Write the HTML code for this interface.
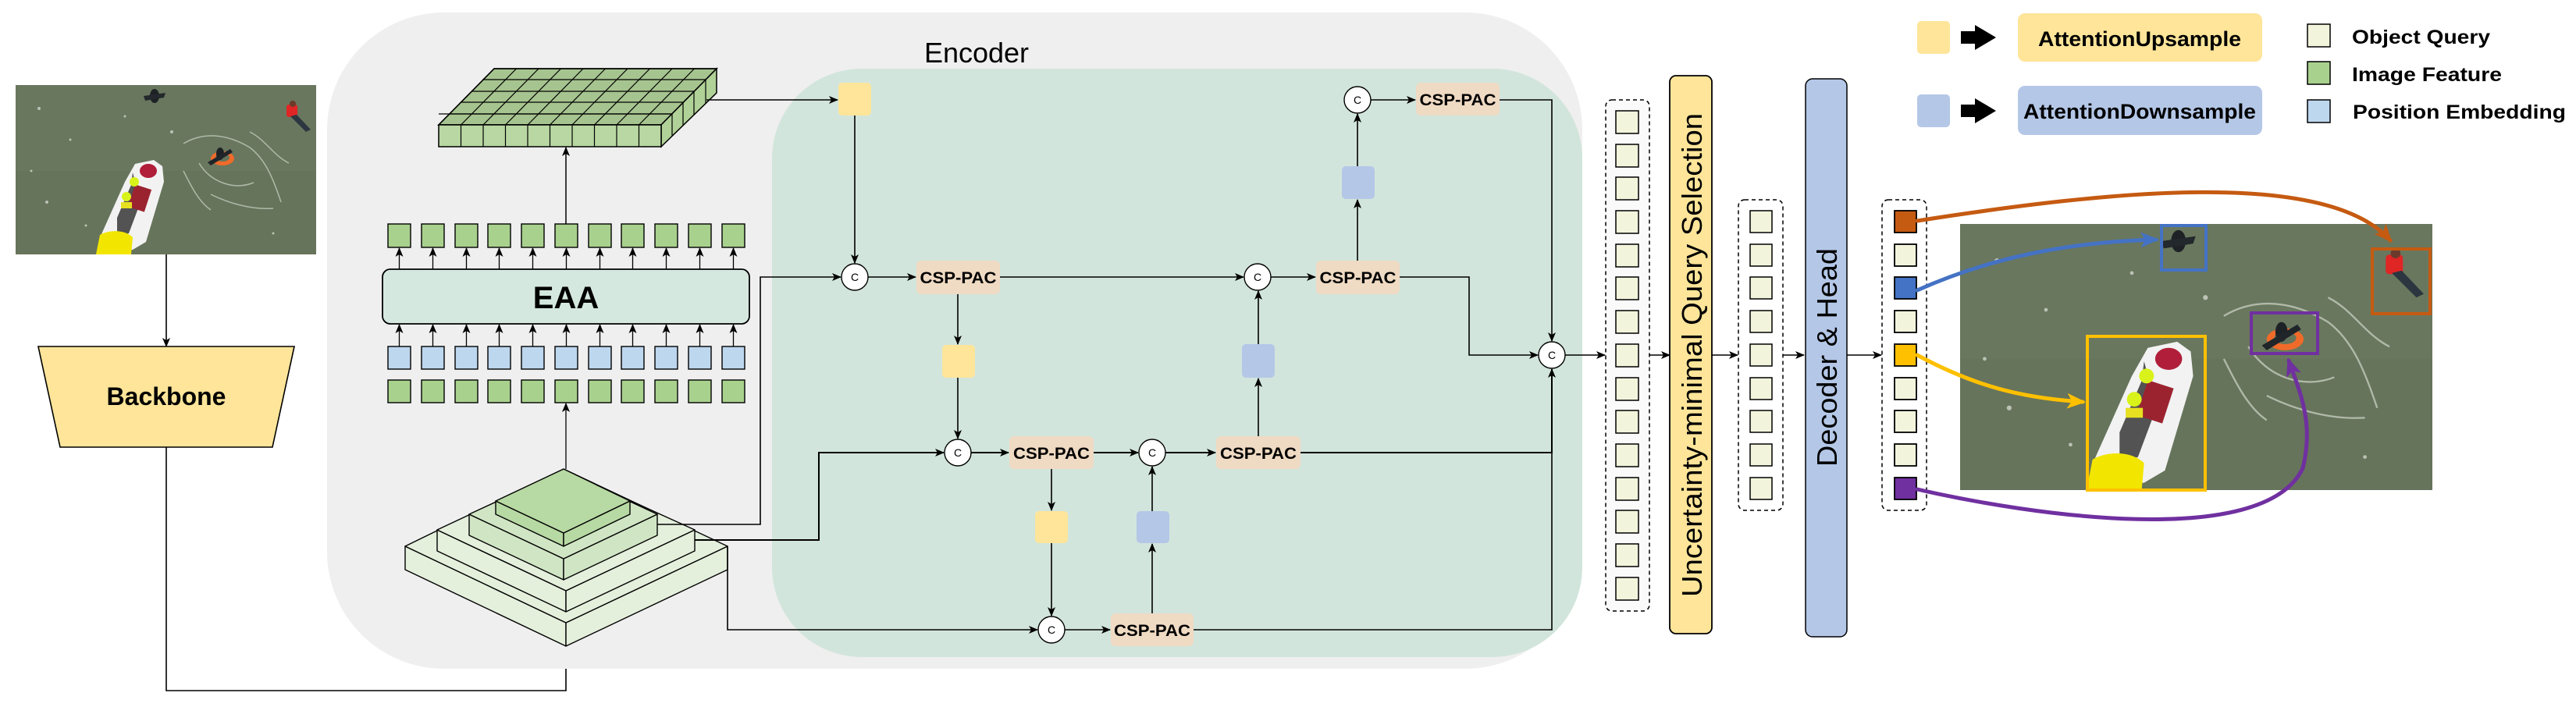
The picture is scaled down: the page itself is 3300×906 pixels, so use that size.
<!DOCTYPE html>
<html><head><meta charset="utf-8"><style>
html,body{margin:0;padding:0;background:#fff;}
svg{display:block;}
text{font-family:"Liberation Sans",Arial,sans-serif;}
</style></head><body>
<svg width="3300" height="906" viewBox="0 0 3300 906" xmlns="http://www.w3.org/2000/svg">
<defs>
<marker id="a" markerWidth="12" markerHeight="10" refX="11" refY="5" orient="auto" markerUnits="userSpaceOnUse"><path d="M0,0 L12,5 L0,10 L3,5z" fill="#000"/></marker>
<marker id="mo" markerWidth="24" markerHeight="20" refX="20" refY="10" orient="auto" markerUnits="userSpaceOnUse"><path d="M0,0 L24,10 L0,20 L6,10z" fill="#c55a11"/></marker>
<marker id="mb" markerWidth="24" markerHeight="20" refX="20" refY="10" orient="auto" markerUnits="userSpaceOnUse"><path d="M0,0 L24,10 L0,20 L6,10z" fill="#4472c4"/></marker>
<marker id="my" markerWidth="24" markerHeight="20" refX="20" refY="10" orient="auto" markerUnits="userSpaceOnUse"><path d="M0,0 L24,10 L0,20 L6,10z" fill="#ffc000"/></marker>
<marker id="mp" markerWidth="24" markerHeight="20" refX="20" refY="10" orient="auto" markerUnits="userSpaceOnUse"><path d="M0,0 L24,10 L0,20 L6,10z" fill="#7030a0"/></marker>
<clipPath id="pc"><rect x="0" y="0" width="385" height="217"/></clipPath>
<g id="photo">
 <g clip-path="url(#pc)">
 <rect x="0" y="0" width="385" height="217" fill="#66745b"/>
 <rect x="0" y="0" width="385" height="110" fill="#6b7a60" opacity="0.6"/>
 <g fill="none" stroke="#c9d0c2" stroke-width="1.5" opacity="0.75">
  <path d="M215,75 C240,60 270,62 300,80 C320,95 330,120 340,150"/>
  <path d="M235,100 C250,125 280,135 305,125"/>
  <path d="M300,60 C320,70 330,90 350,100"/>
  <path d="M250,140 C270,150 300,160 330,158"/>
  <path d="M215,110 C225,130 235,150 250,160"/>
 </g>
 <g fill="#dfe4da" opacity="0.7">
  <circle cx="30" cy="30" r="2"/><circle cx="70" cy="70" r="1.5"/><circle cx="40" cy="150" r="2"/><circle cx="90" cy="180" r="1.5"/><circle cx="140" cy="40" r="1.5"/><circle cx="200" cy="60" r="2"/><circle cx="330" cy="190" r="1.5"/><circle cx="20" cy="110" r="1.5"/>
 </g>
 <polygon points="153,101 177,96 188,104 190,124 167,201 150,211 107,214 110,191 140,124" fill="#f2f2f2"/>
 <polygon points="150,112 160,150 145,190 130,195 130,170 148,128" fill="#2a2a2a" opacity="0.8"/>
 <ellipse cx="170" cy="110" rx="11" ry="9" fill="#b01e3a"/>
 <rect x="148" y="130" width="22" height="30" fill="#9b2330" transform="rotate(18 159 145)"/>
 <circle cx="152" cy="124" r="6" fill="#d9f21a"/>
 <circle cx="142" cy="143" r="6" fill="#d9f21a"/>
 <rect x="135" y="150" width="14" height="8" fill="#e6e020"/>
 <path d="M103,217 L108,192 C120,185 140,185 150,195 L148,217z" fill="#f2e600"/>
 <ellipse cx="178" cy="14" rx="6" ry="9" fill="#1e2226"/>
 <path d="M164,14 L192,10 L190,16 L166,20z" fill="#23282c"/>
 <ellipse cx="265" cy="94" rx="15" ry="9" fill="#f06a2a"/>
 <ellipse cx="265" cy="93" rx="9" ry="5" fill="#66745b"/>
 <ellipse cx="262" cy="88" rx="5" ry="8" fill="#1d2226"/>
 <path d="M246,99 L275,82 L278,86 L250,103z" fill="#20252a"/>
 <rect x="347" y="25" width="14" height="16" fill="#e02525" rx="3"/>
 <path d="M352,40 L372,60 L378,57 L360,38z" fill="#2c3640"/>
 <circle cx="355" cy="24" r="4" fill="#6b3a2a"/>
 </g>
</g>
</defs>

<!-- input photo & backbone -->
<use href="#photo" transform="translate(20,109)"/>
<line x1="213" y1="326" x2="213" y2="444" stroke="#000" stroke-width="1.6" marker-end="url(#a)"/>
<polygon points="49,444 377,444 349,573 77,573" fill="#fee599" stroke="#000" stroke-width="1.6"/>
<text x="213" y="519" font-size="32" font-weight="bold" text-anchor="middle">Backbone</text>
<polyline points="213,573 213,885 725,885 725,830" fill="none" stroke="#000" stroke-width="1.6" marker-end="url(#a)"/>

<!-- encoder backgrounds -->
<rect x="419" y="16" width="1608" height="841" rx="150" fill="#efefef"/>
<rect x="989" y="88" width="1038" height="754" rx="115" fill="#d2e5dc"/>
<text x="1251" y="80" font-size="36" text-anchor="middle">Encoder</text>

<!-- 3D grid -->
<polygon points="562,160 847,160 918,88 633,88" fill="#a6c48f" stroke="#000" stroke-width="1.5"/>
<g stroke="#000" stroke-width="1.2">
 <line x1="548" y1="146" x2="861" y2="146" />
</g>
<g stroke="#000" stroke-width="1.2" fill="none">
 <line x1="576" y1="146" x2="861" y2="146"/>
 <line x1="590" y1="131" x2="875" y2="131"/>
 <line x1="604" y1="117" x2="889" y2="117"/>
 <line x1="618" y1="102" x2="904" y2="102"/>
 <line x1="590.5" y1="160" x2="661.5" y2="88"/>
 <line x1="619" y1="160" x2="690" y2="88"/>
 <line x1="647.5" y1="160" x2="718.5" y2="88"/>
 <line x1="676" y1="160" x2="747" y2="88"/>
 <line x1="704.5" y1="160" x2="775.5" y2="88"/>
 <line x1="733" y1="160" x2="804" y2="88"/>
 <line x1="761.5" y1="160" x2="832.5" y2="88"/>
 <line x1="790" y1="160" x2="861" y2="88"/>
 <line x1="818.5" y1="160" x2="889.5" y2="88"/>
</g>
<rect x="548" y="140" width="14" height="14" fill="#efefef"/>
<polygon points="562,160 847,160 918,88 633,88" fill="none" stroke="#000" stroke-width="1.5"/>
<polygon points="847,160 918,88 918,119 847,188" fill="#b0d197" stroke="#000" stroke-width="1.5"/>
<g stroke="#000" stroke-width="1.2"><line x1="861" y1="146" x2="861" y2="174"/><line x1="875" y1="131" x2="875" y2="160"/><line x1="889" y1="117" x2="889" y2="147"/><line x1="904" y1="102" x2="904" y2="133"/></g>
<rect x="562" y="160" width="285" height="28" fill="#b8d7a2" stroke="#000" stroke-width="1.5"/>
<g stroke="#000" stroke-width="1.2"><line x1="590.5" y1="160" x2="590.5" y2="188"/><line x1="619" y1="160" x2="619" y2="188"/><line x1="647.5" y1="160" x2="647.5" y2="188"/><line x1="676" y1="160" x2="676" y2="188"/><line x1="704.5" y1="160" x2="704.5" y2="188"/><line x1="733" y1="160" x2="733" y2="188"/><line x1="761.5" y1="160" x2="761.5" y2="188"/><line x1="790" y1="160" x2="790" y2="188"/><line x1="818.5" y1="160" x2="818.5" y2="188"/></g>
<line x1="905" y1="128" x2="1073" y2="128" stroke="#000" stroke-width="1.4" marker-end="url(#a)"/>
<line x1="725" y1="287" x2="725" y2="189" stroke="#000" stroke-width="1.5" marker-end="url(#a)"/>

<!-- token rows -->
<g stroke="#000" stroke-width="1.4">
<g fill="#a9d18e">
<rect x="497" y="287" width="29" height="30"/><rect x="540" y="287" width="29" height="30"/><rect x="583" y="287" width="29" height="30"/><rect x="625" y="287" width="29" height="30"/><rect x="668" y="287" width="29" height="30"/><rect x="711" y="287" width="29" height="30"/><rect x="754" y="287" width="29" height="30"/><rect x="796" y="287" width="29" height="30"/><rect x="839" y="287" width="29" height="30"/><rect x="882" y="287" width="29" height="30"/><rect x="925" y="287" width="29" height="30"/>
<rect x="497" y="487" width="29" height="29"/><rect x="540" y="487" width="29" height="29"/><rect x="583" y="487" width="29" height="29"/><rect x="625" y="487" width="29" height="29"/><rect x="668" y="487" width="29" height="29"/><rect x="711" y="487" width="29" height="29"/><rect x="754" y="487" width="29" height="29"/><rect x="796" y="487" width="29" height="29"/><rect x="839" y="487" width="29" height="29"/><rect x="882" y="487" width="29" height="29"/><rect x="925" y="487" width="29" height="29"/>
</g>
<g fill="#bdd7ee">
<rect x="497" y="444" width="29" height="29"/><rect x="540" y="444" width="29" height="29"/><rect x="583" y="444" width="29" height="29"/><rect x="625" y="444" width="29" height="29"/><rect x="668" y="444" width="29" height="29"/><rect x="711" y="444" width="29" height="29"/><rect x="754" y="444" width="29" height="29"/><rect x="796" y="444" width="29" height="29"/><rect x="839" y="444" width="29" height="29"/><rect x="882" y="444" width="29" height="29"/><rect x="925" y="444" width="29" height="29"/>
</g>
</g>
<rect x="490" y="345" width="470" height="70" rx="10" fill="#d5e8e0" stroke="#000" stroke-width="1.8"/>
<text x="725" y="395" font-size="40" font-weight="bold" text-anchor="middle">EAA</text>
<g stroke="#000" stroke-width="1.3" marker-end="url(#a)">
<line x1="511.5" y1="345" x2="511.5" y2="318"/><line x1="554.5" y1="345" x2="554.5" y2="318"/><line x1="597.5" y1="345" x2="597.5" y2="318"/><line x1="639.5" y1="345" x2="639.5" y2="318"/><line x1="682.5" y1="345" x2="682.5" y2="318"/><line x1="725.5" y1="345" x2="725.5" y2="318"/><line x1="768.5" y1="345" x2="768.5" y2="318"/><line x1="810.5" y1="345" x2="810.5" y2="318"/><line x1="853.5" y1="345" x2="853.5" y2="318"/><line x1="896.5" y1="345" x2="896.5" y2="318"/><line x1="939.5" y1="345" x2="939.5" y2="318"/>
<line x1="511.5" y1="444" x2="511.5" y2="416"/><line x1="554.5" y1="444" x2="554.5" y2="416"/><line x1="597.5" y1="444" x2="597.5" y2="416"/><line x1="639.5" y1="444" x2="639.5" y2="416"/><line x1="682.5" y1="444" x2="682.5" y2="416"/><line x1="725.5" y1="444" x2="725.5" y2="416"/><line x1="768.5" y1="444" x2="768.5" y2="416"/><line x1="810.5" y1="444" x2="810.5" y2="416"/><line x1="853.5" y1="444" x2="853.5" y2="416"/><line x1="896.5" y1="444" x2="896.5" y2="416"/><line x1="939.5" y1="444" x2="939.5" y2="416"/>
<line x1="725" y1="601" x2="725" y2="517"/>
</g>

<!-- pyramid -->
<g stroke="#000" stroke-width="1.4" stroke-linejoin="round">
 <polygon points="519,700 725,798 725,828 519,730" fill="#e4efdc"/>
 <polygon points="725,798 932,700 932,730 725,828" fill="#e4efdc"/>
 <polygon points="722,601 932,700 725,798 519,700" fill="#e4efdc"/>
 <polygon points="560,679 725,757 725,784 560,706" fill="#e4efdc"/>
 <polygon points="725,757 890,679 890,706 725,784" fill="#e4efdc"/>
 <polygon points="722,603 890,679 725,757 560,679" fill="#e4efdc"/>
 <polygon points="601,659 722,716 722,743 601,686" fill="#d0e5c4"/>
 <polygon points="722,716 842,659 842,686 722,743" fill="#d0e5c4"/>
 <polygon points="722,603 842,659 722,716 601,659" fill="#d0e5c4"/>
 <polygon points="635,642 722,683 722,700 635,659" fill="#b7d9a3"/>
 <polygon points="722,683 807,642 807,659 722,700" fill="#b7d9a3"/>
 <polygon points="722,601 807,642 722,683 635,642" fill="#b7d9a3"/>
</g>

<!-- connectors in encoder -->
<g fill="none" stroke="#000" stroke-width="1.6" marker-end="url(#a)">
 <polyline points="842,672 974,672 974,355 1077,355"/>
 <polyline points="890,692 1049,692 1049,580 1209,580" stroke-width="2"/>
 <polyline points="932,700 932,807 1329,807"/>
 <line x1="1095" y1="148" x2="1095" y2="337"/>
 <line x1="1112" y1="355" x2="1173" y2="355"/>
 <line x1="1281" y1="355" x2="1593" y2="355"/>
 <line x1="1628" y1="355" x2="1685" y2="355"/>
 <line x1="1739" y1="334" x2="1739" y2="256"/>
 <line x1="1739" y1="213" x2="1739" y2="146"/>
 <line x1="1756" y1="128" x2="1813" y2="128"/>
 <polyline points="1921,128 1988,128 1988,437"/>
 <polyline points="1793,355 1882,355 1882,455 1970,455"/>
 <line x1="2005" y1="455" x2="2056" y2="455"/>
 <line x1="1227" y1="377" x2="1227" y2="441"/>
 <line x1="1227" y1="484" x2="1227" y2="562"/>
 <line x1="1244" y1="580" x2="1292" y2="580" stroke-width="2"/>
 <line x1="1401" y1="580" x2="1458" y2="580" stroke-width="2"/>
 <line x1="1493" y1="580" x2="1557" y2="580" stroke-width="2"/>
 <line x1="1612" y1="559" x2="1612" y2="485"/>
 <line x1="1612" y1="441" x2="1612" y2="373"/>
 <polyline points="1666,580 1988,580 1988,473" stroke-width="2"/>
 <line x1="1347" y1="601" x2="1347" y2="654"/>
 <line x1="1347" y1="696" x2="1347" y2="789"/>
 <line x1="1364" y1="807" x2="1422" y2="807"/>
 <line x1="1476" y1="786" x2="1476" y2="697"/>
 <line x1="1476" y1="655" x2="1476" y2="598"/>
 <line x1="2112" y1="455" x2="2139" y2="455"/>
 <line x1="2193" y1="455" x2="2226" y2="455"/>
 <line x1="2284" y1="455" x2="2311" y2="455"/>
 <line x1="2366" y1="455" x2="2410" y2="455"/>
</g>
<polyline points="1529,807 1988,807 1988,580" fill="none" stroke="#000" stroke-width="1.6"/>

<!-- up/down sample boxes -->
<g fill="#fee599"><rect x="1074" y="106" width="42" height="42" rx="5"/><rect x="1207" y="442" width="42" height="42" rx="5"/><rect x="1326" y="655" width="42" height="41" rx="5"/></g>
<g fill="#b4c7e7"><rect x="1719" y="213" width="42" height="42" rx="5"/><rect x="1591" y="441" width="42" height="43" rx="5"/><rect x="1456" y="655" width="42" height="41" rx="5"/></g>

<!-- CSP-PAC -->
<g fill="#efdac3">
<rect x="1174" y="334" width="107" height="43" rx="6"/><rect x="1686" y="334" width="107" height="43" rx="6"/><rect x="1814" y="106" width="107" height="42" rx="6"/><rect x="1293" y="559" width="108" height="42" rx="6"/><rect x="1558" y="559" width="108" height="42" rx="6"/><rect x="1423" y="786" width="106" height="42" rx="6"/>
</g>
<g font-size="21" font-weight="bold" text-anchor="middle">
<text x="1227.5" y="363" textLength="98" lengthAdjust="spacingAndGlyphs">CSP-PAC</text>
<text x="1739.5" y="363" textLength="98" lengthAdjust="spacingAndGlyphs">CSP-PAC</text>
<text x="1867.5" y="135" textLength="98" lengthAdjust="spacingAndGlyphs">CSP-PAC</text>
<text x="1347" y="588" textLength="98" lengthAdjust="spacingAndGlyphs">CSP-PAC</text>
<text x="1612" y="588" textLength="98" lengthAdjust="spacingAndGlyphs">CSP-PAC</text>
<text x="1476" y="815" textLength="98" lengthAdjust="spacingAndGlyphs">CSP-PAC</text>
</g>

<!-- concat circles -->
<g fill="#fff" stroke="#000" stroke-width="1.4">
<circle cx="1095" cy="355" r="17"/><circle cx="1611" cy="355" r="17"/><circle cx="1739" cy="128" r="17"/><circle cx="1988" cy="455" r="17"/><circle cx="1227" cy="580" r="17"/><circle cx="1476" cy="580" r="17"/><circle cx="1347" cy="807" r="17"/>
</g>
<g font-size="14" text-anchor="middle">
<text x="1095" y="360">C</text><text x="1611" y="360">C</text><text x="1739" y="133">C</text><text x="1988" y="460">C</text><text x="1227" y="585">C</text><text x="1476" y="585">C</text><text x="1347" y="812">C</text>
</g>

<!-- query columns -->
<rect x="2057" y="128" width="56" height="655" rx="8" fill="#fafafa" stroke="#000" stroke-width="1.5" stroke-dasharray="5,4"/>
<g fill="#f2f4dc" stroke="#000" stroke-width="1.5">
<rect x="2070" y="142" width="29" height="29"/><rect x="2070" y="185" width="29" height="29"/><rect x="2070" y="227" width="29" height="29"/><rect x="2070" y="270" width="29" height="29"/><rect x="2070" y="313" width="29" height="29"/><rect x="2070" y="355" width="29" height="29"/><rect x="2070" y="398" width="29" height="29"/><rect x="2070" y="441" width="29" height="29"/><rect x="2070" y="484" width="29" height="29"/><rect x="2070" y="526" width="29" height="29"/><rect x="2070" y="569" width="29" height="29"/><rect x="2070" y="612" width="29" height="29"/><rect x="2070" y="654" width="29" height="29"/><rect x="2070" y="697" width="29" height="29"/><rect x="2070" y="740" width="29" height="29"/>
</g>
<rect x="2139" y="97" width="54" height="715" rx="8" fill="#fee599" stroke="#000" stroke-width="1.8"/>
<text transform="translate(2180,455) rotate(-90)" font-size="36" text-anchor="middle" textLength="620" lengthAdjust="spacingAndGlyphs">Uncertainty-minimal Query Selection</text>

<rect x="2227" y="256" width="57" height="398" rx="8" fill="#fff" stroke="#000" stroke-width="1.5" stroke-dasharray="5,4"/>
<g fill="#f2f4dc" stroke="#000" stroke-width="1.5">
<rect x="2242" y="270" width="28" height="28"/><rect x="2242" y="313" width="28" height="28"/><rect x="2242" y="355" width="28" height="28"/><rect x="2242" y="398" width="28" height="28"/><rect x="2242" y="441" width="28" height="28"/><rect x="2242" y="484" width="28" height="28"/><rect x="2242" y="526" width="28" height="28"/><rect x="2242" y="569" width="28" height="28"/><rect x="2242" y="612" width="28" height="28"/>
</g>
<rect x="2313" y="101" width="53" height="715" rx="9" fill="#b4c7e7" stroke="#000" stroke-width="1.5"/>
<text transform="translate(2353,458) rotate(-90)" font-size="36" text-anchor="middle" textLength="280" lengthAdjust="spacingAndGlyphs">Decoder &amp; Head</text>

<rect x="2411" y="256" width="57" height="398" rx="8" fill="#fff" stroke="#000" stroke-width="1.5" stroke-dasharray="5,4"/>
<g stroke="#000" stroke-width="1.8">
<rect x="2427" y="270" width="28" height="28" fill="#c55a11"/><rect x="2427" y="313" width="28" height="28" fill="#f2f4dc"/><rect x="2427" y="355" width="28" height="28" fill="#4472c4"/><rect x="2427" y="398" width="28" height="28" fill="#f2f4dc"/><rect x="2427" y="441" width="28" height="28" fill="#ffc000"/><rect x="2427" y="484" width="28" height="28" fill="#f2f4dc"/><rect x="2427" y="526" width="28" height="28" fill="#f2f4dc"/><rect x="2427" y="569" width="28" height="28" fill="#f2f4dc"/><rect x="2427" y="612" width="28" height="28" fill="#7030a0"/>
</g>

<!-- output photo -->
<use href="#photo" transform="translate(2511,287) scale(1.5714)"/>
<g fill="none" stroke-width="4">
<rect x="2769" y="289" width="57" height="57" stroke="#4472c4"/>
<rect x="3039" y="319" width="74" height="83" stroke="#c55a11"/>
<rect x="2884" y="401" width="85" height="52" stroke="#7030a0"/>
<rect x="2674" y="431" width="151" height="197" stroke="#ffc000"/>
</g>
<g fill="none" stroke-width="5" stroke-linecap="round">
<path d="M2456,283 C2700,245 2980,215 3062,308" stroke="#c55a11" marker-end="url(#mo)"/>
<path d="M2456,372 C2550,330 2650,310 2762,307" stroke="#4472c4" marker-end="url(#mb)"/>
<path d="M2456,455 C2530,495 2590,510 2668,515" stroke="#ffc000" marker-end="url(#my)"/>
<path d="M2456,627 C2600,660 2900,705 2950,600 C2965,540 2945,500 2932,462" stroke="#7030a0" marker-end="url(#mp)"/>
</g>

<!-- legend -->
<rect x="2456" y="27" width="42" height="42" rx="5" fill="#fee599"/>
<rect x="2456" y="121" width="42" height="42" rx="5" fill="#b4c7e7"/>
<path d="M2512,40 L2530,40 L2530,32 L2557,48 L2530,64 L2530,56 L2512,56z" fill="#000"/>
<path d="M2512,134 L2530,134 L2530,126 L2557,142 L2530,158 L2530,150 L2512,150z" fill="#000"/>
<rect x="2585" y="17" width="313" height="62" rx="9" fill="#fee599"/>
<rect x="2585" y="110" width="313" height="63" rx="9" fill="#b4c7e7"/>
<text x="2741" y="59" font-size="27" font-weight="bold" text-anchor="middle" textLength="260" lengthAdjust="spacingAndGlyphs">AttentionUpsample</text>
<text x="2741" y="152" font-size="27" font-weight="bold" text-anchor="middle" textLength="298" lengthAdjust="spacingAndGlyphs">AttentionDownsample</text>
<g stroke="#000" stroke-width="1.5">
<rect x="2956" y="31" width="29" height="29" fill="#f2f4dc"/>
<rect x="2956" y="79" width="29" height="29" fill="#a9d18e"/>
<rect x="2956" y="128" width="29" height="29" fill="#bdd7ee"/>
</g>
<g font-size="25" font-weight="bold">
<text x="3013" y="56" textLength="177" lengthAdjust="spacingAndGlyphs">Object Query</text>
<text x="3013" y="104" textLength="192" lengthAdjust="spacingAndGlyphs">Image Feature</text>
<text x="3014" y="152" textLength="273" lengthAdjust="spacingAndGlyphs">Position Embedding</text>
</g>
</svg>
</body></html>
